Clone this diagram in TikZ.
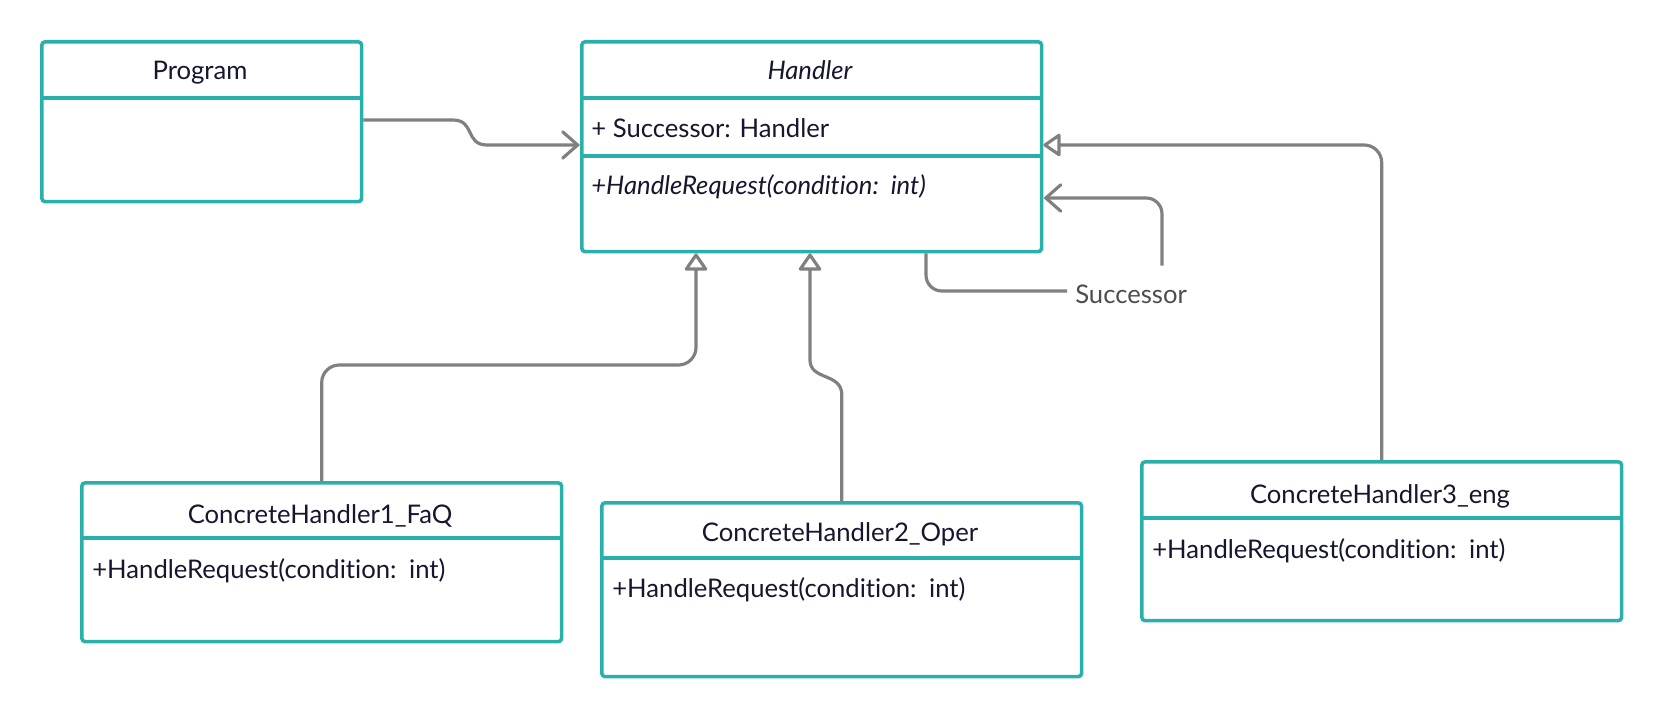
\documentclass[tikz,border=0pt]{standalone}
\usepackage{fontspec}
\setmainfont{Lato}[Ligatures=NoCommon]
\usepackage{tikz}
\usetikzlibrary{arrows.meta,positioning,calc}
\definecolor{boxteal}{HTML}{2AB0AC}
\definecolor{linegray}{HTML}{808080}
\definecolor{inkblue}{HTML}{16162E}
\definecolor{labelgray}{HTML}{4D4D4D}
\newcommand{\hreq}{+HandleRequest(condition:\hspace{0.15em} int)}

\begin{document}
\begin{tikzpicture}[x=0.02cm, y=-0.02cm,
    classbox/.style={draw=boxteal, line width=2pt, rounded corners=2pt, fill=white, anchor=north west, inner sep=0pt, minimum width=9.6cm},
    classname/.style={text=inkblue, font=\fontsize{14.6}{17}\selectfont, anchor=base},
    classmember/.style={text=inkblue, font=\fontsize{14.6}{17}\selectfont, anchor=base west, inner sep=0pt},
    divider/.style={draw=boxteal, line width=2pt},
    genline/.style={draw=linegray, line width=1.8pt, rounded corners=10pt, -{Triangle[open, length=10.5pt, width=14pt, line join=round]}},
    assocline/.style={draw=linegray, line width=1.8pt, rounded corners=9pt},
    navarrow/.style={-{Straight Barb[length=8.5pt, width=15pt, line cap=round]}},
    succlabel/.style={text=labelgray, font=\fontsize{14.6}{17}\selectfont, anchor=west, inner xsep=4.5pt, minimum height=1.12cm}]
    \useasboundingbox (0,0) rectangle (1660,716);

    \node[classbox, minimum width=6.4cm, minimum height=3.2cm] (prog) at (40,40) {};
    \node[classname] (progname) at (200,80) {Program};
    \draw[divider] (prog.west |- 0,98) -- (prog.east |- 0,98);

    \node[classbox, minimum width=9.2cm, minimum height=4.2cm] (handler) at (580,40) {};
    \node[classname] (handlername) at (810,80) {\itshape Handler};
    \draw[divider] (handler.west |- 0,98) -- (handler.east |- 0,98);
    \draw[divider] (handler.west |- 0,156) -- (handler.east |- 0,156);
    \node[classmember] (handlerfield) at (591,138) {+ Successor: Handler};
    \node[classmember] (handlermethod) at (591,195) {\itshape \hreq};

    \node[classbox, minimum height=3.18cm] (faq) at (80,481) {};
    \node[classname] (faqname) at (320,523) {ConcreteHandler1\_FaQ};
    \draw[divider] (faq.west |- 0,538) -- (faq.east |- 0,538);
    \node[classmember] (faqmethod) at (92,578) {\hreq};

    \node[classbox, minimum height=3.48cm] (oper) at (600,501) {};
    \node[classname] (opername) at (840,541) {ConcreteHandler2\_Oper};
    \draw[divider] (oper.west |- 0,558) -- (oper.east |- 0,558);
    \node[classmember] (opermethod) at (612,597) {\hreq};

    \node[classbox, minimum height=3.18cm] (eng) at (1140,460) {};
    \node[classname] (engname) at (1380,503) {ConcreteHandler3\_eng};
    \draw[divider] (eng.west |- 0,518) -- (eng.east |- 0,518);
    \node[classmember] (engmethod) at (1152,558) {\hreq};

    \node[succlabel] (succ) at (1067,294) {Successor};

    \draw[assocline, sharp corners, navarrow] (prog.east |- 0,120) -- (453,120) .. controls (475,120) and (465,145) .. (487,145) -- (handler.west |- 0,145);
    \draw[genline] (faq.north) -- (faq.north |- 0,365) -| (handler.south -| 696,0);
    \draw[genline, sharp corners] (oper.north) -- (oper.north |- 0,393) .. controls (840,373) and (810,380) .. (810,360) -- (handler.south -| 810,0);
    \draw[genline] (eng.north) |- (handler.east |- 0,145);
    \draw[assocline] (handler.south -| 926,0) |- (succ.west |- 0,291);
    \draw[assocline, navarrow] (succ.north -| 1162,0) |- (handler.east |- 0,198);
\end{tikzpicture}
\end{document}
